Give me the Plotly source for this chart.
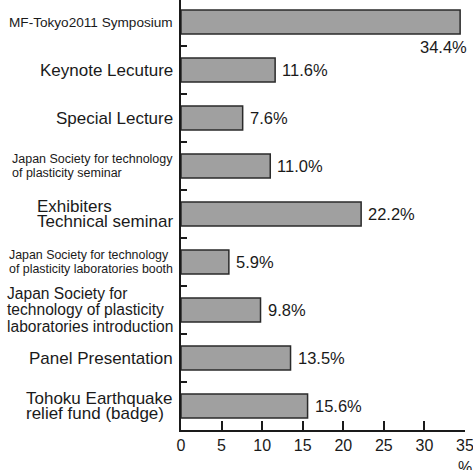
import plotly.graph_objects as go

categories = [
    "MF-Tokyo2011 Symposium",
    "Keynote Lecuture",
    "Special Lecture",
    "Japan Society for technology<br>of plasticity seminar",
    "Exhibiters<br>Technical seminar",
    "Japan Society for technology<br>of plasticity laboratories booth",
    "Japan Society for<br>technology of plasticity<br>laboratories introduction",
    "Panel Presentation",
    "Tohoku Earthquake<br>relief fund (badge)",
]
values = [34.4, 11.6, 7.6, 11.0, 22.2, 5.9, 9.8, 13.5, 15.6]
label_sizes = [13.6, 17, 17, 12.5, 17, 12.4, 15.6, 17, 17]
line_gaps = [16, 16, 16, 15, 16, 15, 16, 16, 16]
x_ticks = [0, 5, 10, 15, 20, 25, 30, 35]

FONT = "Liberation Sans, Arial, sans-serif"
ink = "#1a1a1a"
ids = list(range(len(categories)))
HIDE = "<span style='color:rgba(0,0,0,0)'>{}</span>"

fig = go.Figure()
fig.add_trace(go.Bar(
    x=values, y=ids, orientation="h", width=0.5,
    marker=dict(color="#a0a0a0", line=dict(color="#2a2a2a", width=1.5)),
    hoverinfo="skip",
))

annotations = []
for i, (cat, v, fs, gap) in enumerate(zip(categories, values, label_sizes, line_gaps)):
    lines = cat.split("<br>")
    n = len(lines)
    natural = 1.3 * fs
    # one annotation per visible line, others kept invisible so the block stays left aligned
    for k in range(n):
        parts = [ln if j == k else HIDE.format(ln) for j, ln in enumerate(lines)]
        annotations.append(dict(
            x=0, xref="paper", y=i, yref="y", text="<br>".join(parts),
            showarrow=False, xanchor="right", yanchor="middle", align="left",
            xshift=-6, yshift=(k - (n - 1) / 2) * (natural - gap),
            font=dict(family=FONT, size=fs, color=ink),
        ))
    if i == 0:
        annotations.append(dict(
            x=v, y=i, text=f"{v:.1f}%", showarrow=False,
            xanchor="right", yanchor="middle", xshift=9, yshift=-25,
            font=dict(family=FONT, size=16.5, color=ink),
        ))
    else:
        annotations.append(dict(
            x=v, y=i, text=f"{v:.1f}%", showarrow=False,
            xanchor="left", yanchor="middle", xshift=5,
            font=dict(family=FONT, size=16.5, color=ink),
        ))

annotations.append(dict(
    x=35, y=0, xref="x", yref="paper", text="%", showarrow=False,
    xanchor="center", yanchor="top", yshift=-27,
    font=dict(family=FONT, size=16, color=ink),
))

fig.update_layout(
    width=473, height=470,
    margin=dict(l=181, r=8, t=0, b=40),
    plot_bgcolor="white", paper_bgcolor="white",
    showlegend=False,
    annotations=annotations,
    font=dict(family=FONT, size=16, color=ink),
    xaxis=dict(
        range=[0, 35], tickvals=x_ticks, showgrid=False, zeroline=False,
        ticks="inside", ticklen=9, tickwidth=1.5, tickcolor=ink,
        showline=True, linecolor=ink, linewidth=1.5,
        tickfont=dict(size=16, color=ink), ticklabeloverflow="allow",
    ),
    yaxis=dict(
        range=[len(categories) - 0.5, -0.46],
        tickvals=[i + 0.5 for i in ids[:-1]], ticktext=[""] * (len(ids) - 1),
        showgrid=False, zeroline=False,
        ticks="inside", ticklen=6, tickwidth=1.5, tickcolor=ink,
        showline=True, linecolor=ink, linewidth=1.5,
    ),
)

fig.write_html("out.html", config={"displayModeBar": False},
               post_script="document.body.style.margin='0';")
